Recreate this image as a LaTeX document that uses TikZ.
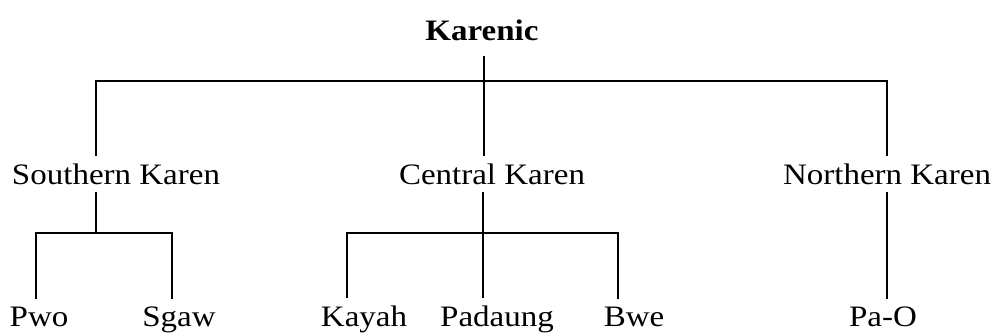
\documentclass[tikz,border=0pt]{standalone}
\usepackage{fontspec}
\setmainfont{Liberation Serif}
\usepackage{graphicx}
\newcommand{\sq}[1]{\scalebox{1}[0.9]{#1}}
\begin{document}
\begin{tikzpicture}[x=0.5pt,y=-0.5pt,
  every node/.style={font=\fontsize{16.5}{20}\selectfont},
  lbl/.style={inner xsep=0pt,inner ysep=3.5pt,anchor=base},
  edge/.style={line width=0.9pt}]
\useasboundingbox (0,0) rectangle (991,333);
% labels
\node[lbl,font=\fontsize{16.5}{20}\selectfont\bfseries] (karenic) at (482,40) {\sq{Karenic}};
\node[lbl] (sk) at (116,184) {\sq{Southern Karen}};
\node[lbl] (ck) at (492,184) {\sq{Central Karen}};
\node[lbl] (nk) at (887,184) {\sq{Northern Karen}};
\node[lbl] (pwo) at (39,326) {\sq{Pwo}};
\node[lbl] (sgaw) at (179,326) {\sq{Sgaw}};
\node[lbl] (kayah) at (364,326) {\sq{Kayah}};
\node[lbl] (padaung) at (497,326) {\sq{Padaung}};
\node[lbl] (bwe) at (634,326) {\sq{Bwe}};
\node[lbl] (pao) at (883,326) {\sq{Pa-O}};
% junctions and stem positions
\coordinate (bar) at (484,81);
\coordinate (sbar) at (96,233);
\coordinate (cbar) at (483,233);
\coordinate (nstem) at (887,0);
\coordinate (pwstem) at (36,0);
\coordinate (sgstem) at (172,0);
\coordinate (kstem) at (347,0);
\coordinate (bstem) at (618,0);
% connectors
\draw[edge] ([yshift=-4pt]karenic.south -| bar) -- (ck.north -| bar);
\draw[edge] (sk.north -| sbar) |- (bar) -| (nk.north -| nstem);
\draw[edge] (sk.south -| sbar) -- (sbar);
\draw[edge] (pwo.north -| pwstem) |- (sbar) -| (sgaw.north -| sgstem);
\draw[edge] (ck.south -| cbar) -- (padaung.north -| cbar);
\draw[edge] (kayah.north -| kstem) |- (cbar) -| (bwe.north -| bstem);
\draw[edge] (nk.south -| nstem) -- (pao.north -| nstem);
\end{tikzpicture}
\end{document}
